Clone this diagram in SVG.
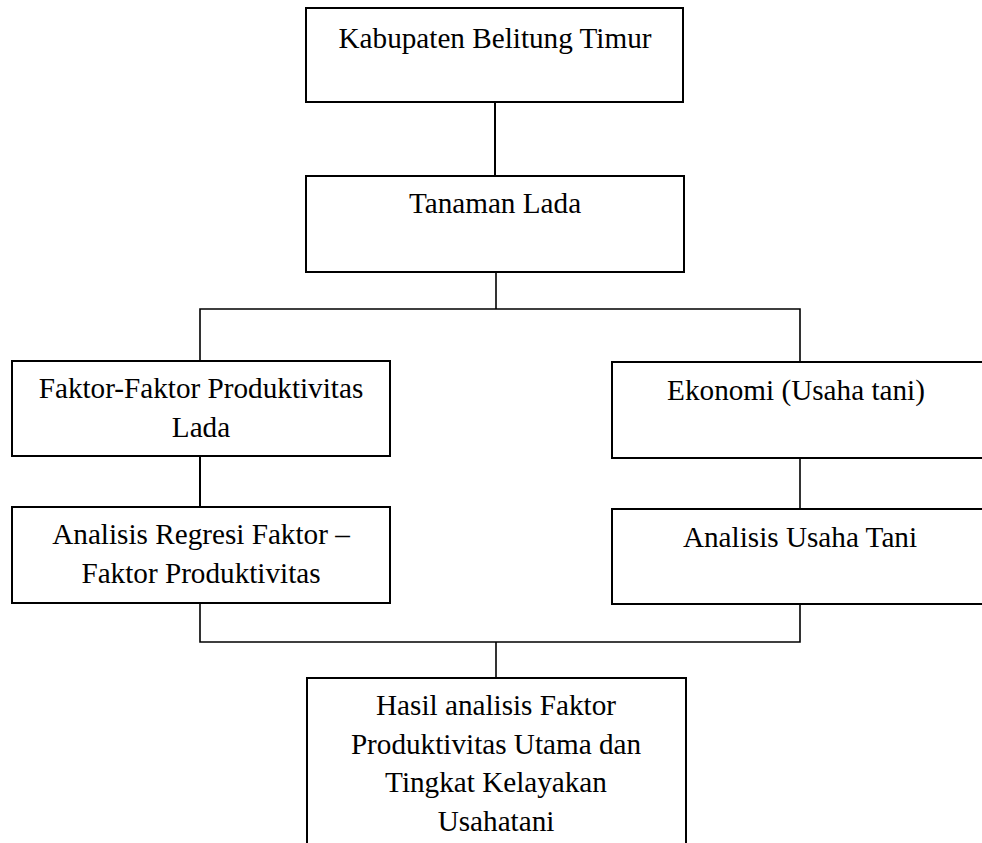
<svg xmlns="http://www.w3.org/2000/svg" width="982" height="843" viewBox="0 0 982 843">
<style>
.box{fill:#fff;stroke:#000;stroke-width:2}
.t{font-family:"Liberation Serif","Times New Roman",serif;font-size:29.2px;fill:#000;text-anchor:middle}
.c{fill:none;stroke:#000;stroke-width:1.6}
</style>
<rect width="982" height="843" fill="#fff"/>
<g id="connectors">
<line class="c" x1="495" y1="102" x2="495" y2="176" style="stroke-width:2"/>
<line class="c" x1="496" y1="272" x2="496" y2="309"/>
<polyline class="c" points="200,361 200,309 800,309 800,362"/>
<line class="c" x1="200" y1="456" x2="200" y2="507" style="stroke-width:2"/>
<line class="c" x1="800" y1="458" x2="800" y2="509"/>
<polyline class="c" points="200,603 200,642 800,642 800,604"/>
<line class="c" x1="496" y1="642" x2="496" y2="678"/>
</g>
<g id="n1">
<rect class="box" x="306" y="8" width="377" height="94"/>
<text class="t" x="495" y="48">Kabupaten Belitung Timur</text>
</g>
<g id="n2">
<rect class="box" x="306" y="176" width="378" height="96"/>
<text class="t" x="495" y="213">Tanaman Lada</text>
</g>
<g id="n3">
<rect class="box" x="12" y="361" width="378" height="95"/>
<text class="t" x="201" y="398">Faktor-Faktor Produktivitas</text>
<text class="t" x="201" y="437">Lada</text>
</g>
<g id="n4">
<rect class="box" x="612" y="362" width="400" height="96"/>
<text class="t" x="796" y="400">Ekonomi (Usaha tani)</text>
</g>
<g id="n5">
<rect class="box" x="12" y="507" width="378" height="96"/>
<text class="t" x="201" y="544">Analisis Regresi Faktor –</text>
<text class="t" x="201" y="583">Faktor Produktivitas</text>
</g>
<g id="n6">
<rect class="box" x="612" y="509" width="400" height="95"/>
<text class="t" x="800" y="547">Analisis Usaha Tani</text>
</g>
<g id="n7">
<rect class="box" x="307" y="678" width="379" height="200"/>
<text class="t" x="496" y="715">Hasil analisis Faktor</text>
<text class="t" x="496" y="754">Produktivitas Utama dan</text>
<text class="t" x="496" y="792">Tingkat Kelayakan</text>
<text class="t" x="496" y="831">Usahatani</text>
</g>
</svg>
